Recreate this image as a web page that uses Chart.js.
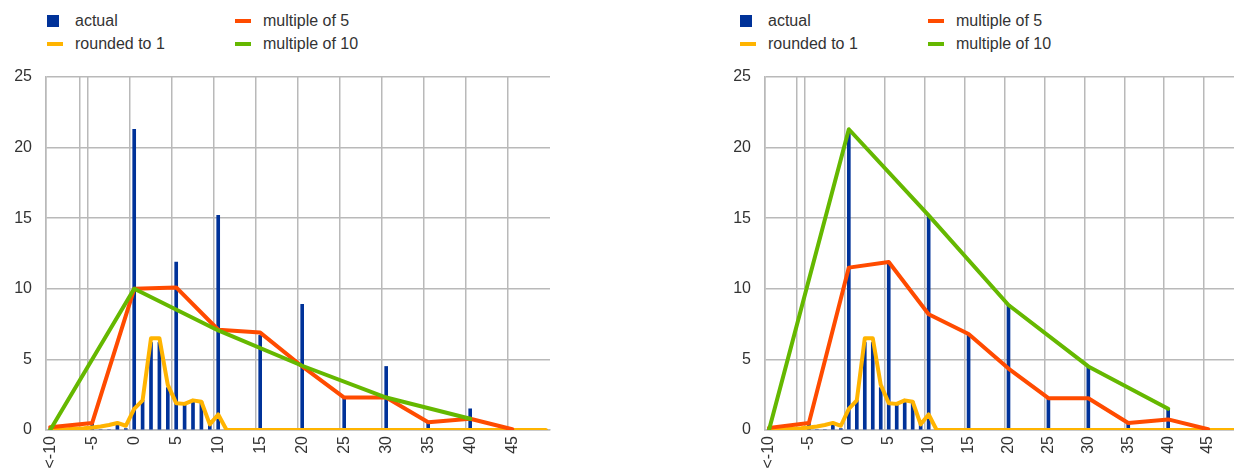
<!DOCTYPE html>
<html>
<head>
<meta charset="utf-8">
<script src="https://cdn.jsdelivr.net/npm/chart.js@4/dist/chart.umd.min.js"></script>
<style>
  body { margin: 0; width: 1234px; height: 473px; overflow: hidden; position: relative; background: #fff;
         font-family: "Liberation Sans", Arial, sans-serif; }
  .legend { position: absolute; top: 0; width: 360px; height: 60px; font-size: 16px; color: #333; }
  .item { position: absolute; height: 18px; line-height: 18px; white-space: nowrap; }
  .item span { position: absolute; left: 28px; }
  .box { position: absolute; top: 3px; left: 0; width: 12px; height: 12px; }
  .ln { position: absolute; top: 7px; left: 0; width: 16px; height: 4px; }
  .wrap { position: absolute; top: 60px; height: 413px; }
</style>
</head>
<body>
<div class="legend" style="left:47px">
  <div class="item" style="left:0; top:12px"><div class="box" style="background:#003299"></div><span>actual</span></div>
  <div class="item" style="left:188px; top:12px"><div class="ln" style="background:#ff4b00"></div><span>multiple of 5</span></div>
  <div class="item" style="left:0; top:35px"><div class="ln" style="background:#ffb400"></div><span>rounded to 1</span></div>
  <div class="item" style="left:188px; top:35px"><div class="ln" style="background:#65b800"></div><span>multiple of 10</span></div>
</div>
<div class="legend" style="left:740px">
  <div class="item" style="left:0; top:12px"><div class="box" style="background:#003299"></div><span>actual</span></div>
  <div class="item" style="left:188px; top:12px"><div class="ln" style="background:#ff4b00"></div><span>multiple of 5</span></div>
  <div class="item" style="left:0; top:35px"><div class="ln" style="background:#ffb400"></div><span>rounded to 1</span></div>
  <div class="item" style="left:188px; top:35px"><div class="ln" style="background:#65b800"></div><span>multiple of 10</span></div>
</div>
<div class="wrap" style="left:0; width:560px"><canvas id="chartLeft"></canvas></div>
<div class="wrap" style="left:719px; width:531px"><canvas id="chartRight"></canvas></div>
<script>
// x categories: "<-10" then -9 ... 49
const categories = ["<-10", "-9", "-8", "-7", "-6", "-5", "-4", "-3", "-2", "-1",
  "0", "1", "2", "3", "4", "5", "6", "7", "8", "9",
  "10", "11", "12", "13", "14", "15", "16", "17", "18", "19",
  "20", "21", "22", "23", "24", "25", "26", "27", "28", "29",
  "30", "31", "32", "33", "34", "35", "36", "37", "38", "39",
  "40", "41", "42", "43", "44", "45", "46", "47", "48", "49"];

const actual = [0.1, 0, 0, 0, 0, 0.5, 0, 0, 0.4, 0.1,
  21.3, 2.1, 6.2, 6.2, 3.0, 11.9, 1.8, 2.0, 2.0, 0.5,
  15.2, 0, 0, 0, 0, 6.7, 0, 0, 0, 0,
  8.9, 0, 0, 0, 0, 2.3, 0, 0, 0, 0,
  4.5, 0, 0, 0, 0, 0.6, 0, 0, 0, 0,
  1.5, 0, 0, 0, 0, 0, 0, 0, 0, 0];

const roundedTo1 = [0, 0.03, 0.06, 0.1, 0.12, 0.18, 0.25, 0.35, 0.5, 0.3,
  1.5, 2.1, 6.5, 6.5, 3.2, 1.9, 1.85, 2.1, 2.0, 0.4,
  1.1, 0, 0, 0, 0, 0, 0, 0, 0, 0,
  0, 0, 0, 0, 0, 0, 0, 0, 0, 0,
  0, 0, 0, 0, 0, 0, 0, 0, 0, 0,
  0, 0, 0, 0, 0, 0, 0, 0, 0, 0];

const mult5Cats = ["<-10", "-5", "0", "5", "10", "15", "20", "25", "30", "35", "40", "45"];
const mult5Left = [0.2, 0.5, 10.0, 10.1, 7.1, 6.9, 4.5, 2.3, 2.3, 0.55, 0.8, 0.05];
const mult5Right = [0.15, 0.5, 11.5, 11.9, 8.2, 6.8, 4.35, 2.25, 2.25, 0.5, 0.75, 0.05];

const mult10Cats = ["<-10", "0", "10", "20", "30", "40"];
const mult10Left = [0, 10.0, 7.05, 4.55, 2.3, 0.8];
const mult10Right = [0, 21.3, 15.2, 8.85, 4.5, 1.5];

const colors = {
  blue: "#003299",
  orange: "#ff4b00",
  yellow: "#ffb400",
  green: "#65b800",
  grid: "#b9b9b9",
};

const tickFont = { family: "Liberation Sans", size: 16 };

const pts = (labels, vals) => labels.map((x, i) => ({ x: x, y: vals[i] }));

const lineSet = (label, data, color, order) => ({
  type: "line",
  label: label,
  data: data,
  borderColor: color,
  backgroundColor: color,
  borderWidth: 4,
  pointRadius: 0,
  borderJoinStyle: "round",
  borderCapStyle: "round",
  tension: 0,
  order: order,
});

const makeChart = (id, mult5, mult10, padRight) => {
  const ctx = document.getElementById(id);
  return new Chart(ctx, {
    type: "bar",
    data: {
      labels: categories,
      datasets: [
        {
          label: "actual",
          data: actual,
          backgroundColor: colors.blue,
          barThickness: 3,
          order: 3,
        },
        lineSet("rounded to 1", roundedTo1, colors.yellow, 2),
        lineSet("multiple of 5", pts(mult5Cats, mult5), colors.orange, 1),
        lineSet("multiple of 10", pts(mult10Cats, mult10), colors.green, 0),
      ],
    },
    options: {
      responsive: true,
      maintainAspectRatio: false,
      animation: false,
      layout: { padding: { top: 17, right: padRight, left: 0, bottom: 0 } },
      plugins: {
        legend: { display: false },
        tooltip: { enabled: false },
      },
      scales: {
        x: {
          offset: true,
          grid: {
            offset: true,
            drawTicks: false,
            lineWidth: 1.5,
            // gridline every 5 categories, plus the odd one before "-6"
            color: (c) => (c.index % 5 === 0 || c.index === 4 ? colors.grid : "rgba(0,0,0,0)"),
          },
          border: { color: colors.grid, width: 1.5 },
          ticks: {
            autoSkip: false,
            minRotation: 90,
            maxRotation: 90,
            padding: 6,
            color: "#333",
            font: tickFont,
            callback: function (v, i) {
              return i % 5 === 0 ? this.getLabelForValue(v) : "";
            },
          },
          afterFit: (s) => {
            s.height = 43;
            s.paddingLeft = 0;
            s.paddingRight = 0;
          },
        },
        y: {
          min: 0,
          max: 25,
          ticks: {
            stepSize: 5,
            padding: 14,
            color: "#333",
            font: tickFont,
          },
          grid: { color: colors.grid, drawTicks: false, lineWidth: 1.5 },
          border: { color: colors.grid, width: 1.5 },
          afterFit: (s) => {
            s.width = 46;
            s.paddingTop = 0;
            s.paddingBottom = 0;
          },
        },
      },
    },
  });
};

makeChart("chartLeft", mult5Left, mult10Left, 10);
makeChart("chartRight", mult5Right, mult10Right, 6);
</script>
</body>
</html>
